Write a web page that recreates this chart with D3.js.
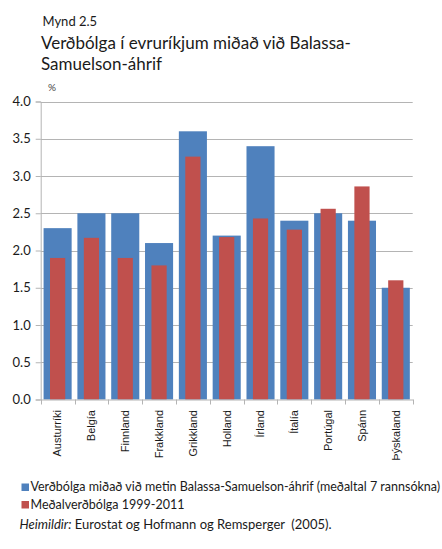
<!DOCTYPE html>
<html>
<head>
<meta charset="utf-8">
<script src="https://cdn.jsdelivr.net/npm/d3@7"></script>
<style>
  html, body { margin: 0; padding: 0; background: #ffffff; }
  svg { display: block; }
  text { font-family: Lato, "Open Sans", sans-serif; fill: #1a1a1a; }
</style>
</head>
<body>
<svg id="chart" width="442" height="549"></svg>
<script>
// Countries of the euro area
const categories = ["Austurríki", "Belgía", "Finnland", "Frakkland", "Grikkland",
  "Holland", "Írland", "Ítalía", "Portúgal", "Spánn", "Þýskaland"];

// Inflation implied by estimated Balassa-Samuelson effects (average of 7 studies), %
const bsInflation = [2.3, 2.5, 2.5, 2.1, 3.6, 2.2, 3.4, 2.4, 2.5, 2.4, 1.5];

// Average inflation 1999-2011, %
const avgInflation = [1.9, 2.17, 1.9, 1.8, 3.26, 2.18, 2.43, 2.28, 2.56, 2.86, 1.6];

const yTicks = [0, 0.5, 1, 1.5, 2, 2.5, 3, 3.5, 4];

const seriesNames = [
  "Verðbólga miðað við metin Balassa-Samuelson-áhrif (meðaltal 7 rannsókna)",
  "Meðalverðbólga 1999-2011"
];

const BLUE = "#4f81bd", RED = "#c0504d", GRID = "#b4b4b4";

const svg = d3.select("#chart");

const plotLeft = 40.7, plotRight = 412.7, plotTop = 101.5, plotBottom = 399.5;

const x = d3.scaleBand().domain(categories).range([plotLeft, plotRight])
  .paddingInner(0.17).paddingOuter(0.085);
const y = d3.scaleLinear().domain([0, 4]).range([plotBottom, plotTop]);

// Title
svg.append("text").attr("x", 42.5).attr("y", 26).style("font-size", "13px").text("Mynd 2.5");
svg.append("text").attr("x", 41).attr("y", 49).style("font-size", "17px")
  .text("Verðbólga í evruríkjum miðað við Balassa-");
svg.append("text").attr("x", 41).attr("y", 70).style("font-size", "17px")
  .text("Samuelson-áhrif");

// Unit label
svg.append("text").attr("x", 48).attr("y", 91).style("font-size", "10px").style("fill", "#444")
  .text("%");

// Horizontal gridlines
svg.append("g").selectAll("line").data(yTicks.filter(d => d > 0)).join("line")
  .attr("x1", plotLeft).attr("x2", plotRight)
  .attr("y1", d => Math.round(y(d)) + 0.5).attr("y2", d => Math.round(y(d)) + 0.5)
  .attr("stroke", GRID).attr("stroke-width", 1);

// Bars: wide series first, narrower series centered on top
svg.append("g").selectAll("rect").data(categories).join("rect")
  .attr("x", d => x(d))
  .attr("width", x.bandwidth())
  .attr("y", (d, i) => y(bsInflation[i]))
  .attr("height", (d, i) => y(0) - y(bsInflation[i]))
  .attr("fill", BLUE);

const rw = x.step() * 0.45;
svg.append("g").selectAll("rect").data(categories).join("rect")
  .attr("x", d => x(d) + x.bandwidth() / 2 - rw / 2)
  .attr("width", rw)
  .attr("y", (d, i) => y(avgInflation[i]))
  .attr("height", (d, i) => y(0) - y(avgInflation[i]))
  .attr("fill", RED);

// Y axis
const yAxis = svg.append("g").attr("transform", `translate(${plotLeft},0)`)
  .call(d3.axisLeft(y).tickValues(yTicks).tickFormat(d3.format(".1f")).tickSize(5).tickPadding(5));
yAxis.selectAll("path, line").attr("stroke", GRID);
yAxis.selectAll("text").style("font-size", "13px").style("font-family", "Lato, sans-serif").attr("fill", "#1a1a1a");

// X axis: labels centered under bands, ticks at band boundaries
const xAxis = svg.append("g").attr("transform", `translate(0,${plotBottom})`)
  .call(d3.axisBottom(x).tickSize(0).tickPadding(0));
xAxis.select("path").attr("stroke", GRID);
xAxis.selectAll(".tick text")
  .attr("transform", "rotate(-90)")
  .attr("x", -10.5).attr("y", 0).attr("dy", "0.35em")
  .style("text-anchor", "end")
  .style("font-size", "11px").style("font-family", "'Liberation Sans', Arial, sans-serif")
  .attr("fill", "#1a1a1a");

const boundaries = d3.range(categories.length + 1).map(i => plotLeft + i * x.step());
xAxis.append("g").selectAll("line").data(boundaries).join("line")
  .attr("x1", d => Math.round(d) + 0.5).attr("x2", d => Math.round(d) + 0.5)
  .attr("y1", 0).attr("y2", 5).attr("stroke", GRID);

// Legend
const legend = svg.append("g");
[BLUE, RED].forEach((c, i) => {
  legend.append("rect").attr("x", 21.5).attr("y", 483.5 + i * 17.5).attr("width", 7.5).attr("height", 7.5).attr("fill", c);
  legend.append("text").attr("x", 30.5).attr("y", 491 + i * 17.5).style("font-size", "12.5px").text(seriesNames[i]);
});

// Source
const src = svg.append("text").attr("x", 19.5).attr("y", 528.5).style("font-size", "13px");
src.append("tspan").style("font-style", "italic").text("Heimildir:");
src.append("tspan").text(" Eurostat og Hofmann og Remsperger  (2005).").attr("xml:space", "preserve");
</script>
</body>
</html>
